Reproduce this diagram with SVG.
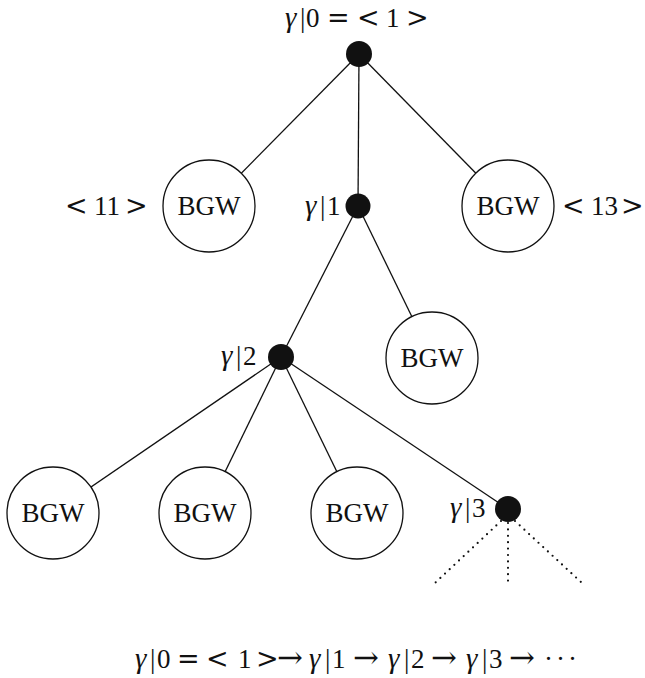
<svg xmlns="http://www.w3.org/2000/svg" width="645" height="678" viewBox="0 0 645 678">
  <style>
    text { font-family: "Liberation Serif", "DejaVu Serif", serif; font-size: 27px; fill: #111; }
    .g { font-style: italic; font-size: 29px; }
    .s { font-family: "DejaVu Serif", "Liberation Serif", serif; font-size: 27px; }
    .a { font-family: "DejaVu Serif", "Liberation Serif", serif; font-size: 31px; }
    .edge { stroke: #111; stroke-width: 1.3; fill: none; }
    .dots { stroke: #111; stroke-width: 2.2; stroke-dasharray: 0 6.4; stroke-linecap: round; fill: none; }
    .bgw { fill: #fff; stroke: #111; stroke-width: 1.3; }
    .dot { fill: #111; }
  </style>

  <!-- connectors (drawn first; node shapes sit on top) -->
  <g id="connectors">
    <line class="edge" x1="359" y1="54" x2="209" y2="206"/>
    <line class="edge" x1="359" y1="54" x2="358" y2="206"/>
    <line class="edge" x1="359" y1="54" x2="508" y2="206"/>
    <line class="edge" x1="358" y1="206" x2="281" y2="357"/>
    <line class="edge" x1="358" y1="206" x2="432" y2="358"/>
    <line class="edge" x1="281" y1="357" x2="53" y2="513"/>
    <line class="edge" x1="281" y1="357" x2="205" y2="513"/>
    <line class="edge" x1="281" y1="357" x2="357" y2="513"/>
    <line class="edge" x1="281" y1="357" x2="508" y2="509"/>
    <path class="dots" d="M501 521 L435 583 M508 523 L508 583 M515 521 L582 583"/>
  </g>

  <!-- root -->
  <g id="n0">
    <circle class="dot" cx="359" cy="54" r="13"/>
    <text y="27"><tspan class="g" x="285">γ</tspan><tspan x="300">|</tspan><tspan x="306">0</tspan><tspan class="s" x="327">=</tspan><tspan class="s" x="357">&lt;</tspan><tspan x="386">1</tspan><tspan class="s" x="406">&gt;</tspan></text>
  </g>

  <g id="n11">
    <circle class="bgw" cx="209" cy="206" r="46"/>
    <text x="209" y="215" text-anchor="middle">BGW</text>
    <text y="215"><tspan class="s" x="65">&lt;</tspan><tspan x="94">11</tspan><tspan class="s" x="125">&gt;</tspan></text>
  </g>

  <g id="n1">
    <circle class="dot" cx="358" cy="206" r="12.5"/>
    <text y="215"><tspan class="g" x="305">γ</tspan><tspan x="320">|</tspan><tspan x="327">1</tspan></text>
  </g>

  <g id="n13">
    <circle class="bgw" cx="508" cy="206" r="46"/>
    <text x="508" y="215" text-anchor="middle">BGW</text>
    <text y="215"><tspan class="s" x="562">&lt;</tspan><tspan x="591">13</tspan><tspan class="s" x="621">&gt;</tspan></text>
  </g>

  <g id="n2">
    <circle class="dot" cx="281" cy="357" r="13"/>
    <text y="365"><tspan class="g" x="221">γ</tspan><tspan x="236">|</tspan><tspan x="243">2</tspan></text>
  </g>

  <g id="n1b">
    <circle class="bgw" cx="432" cy="358" r="46"/>
    <text x="432" y="367" text-anchor="middle">BGW</text>
  </g>

  <g id="n2a">
    <circle class="bgw" cx="53" cy="513" r="46"/>
    <text x="53" y="522" text-anchor="middle">BGW</text>
  </g>
  <g id="n2b">
    <circle class="bgw" cx="205" cy="513" r="46"/>
    <text x="205" y="522" text-anchor="middle">BGW</text>
  </g>
  <g id="n2c">
    <circle class="bgw" cx="357" cy="513" r="46"/>
    <text x="357" y="522" text-anchor="middle">BGW</text>
  </g>

  <g id="n3">
    <circle class="dot" cx="508" cy="509" r="13"/>
    <text y="517"><tspan class="g" x="450">γ</tspan><tspan x="465">|</tspan><tspan x="472">3</tspan></text>
  </g>

  <!-- chain summary -->
  <g id="caption">
    <text y="668"><tspan class="g" x="135">γ</tspan><tspan x="150">|</tspan><tspan x="157">0</tspan><tspan class="s" x="177">=</tspan><tspan class="s" x="206">&lt;</tspan><tspan x="238">1</tspan><tspan class="s" x="256">&gt;</tspan><tspan class="a" x="277">→</tspan><tspan class="g" x="309">γ</tspan><tspan x="325">|</tspan><tspan x="332">1</tspan><tspan class="a" x="353">→</tspan><tspan class="g" x="388">γ</tspan><tspan x="404">|</tspan><tspan x="411">2</tspan><tspan class="a" x="431">→</tspan><tspan class="g" x="466">γ</tspan><tspan x="482">|</tspan><tspan x="489">3</tspan><tspan class="a" x="509">→</tspan><tspan x="544">·</tspan><tspan x="556">·</tspan><tspan x="568">·</tspan></text>
  </g>
</svg>
